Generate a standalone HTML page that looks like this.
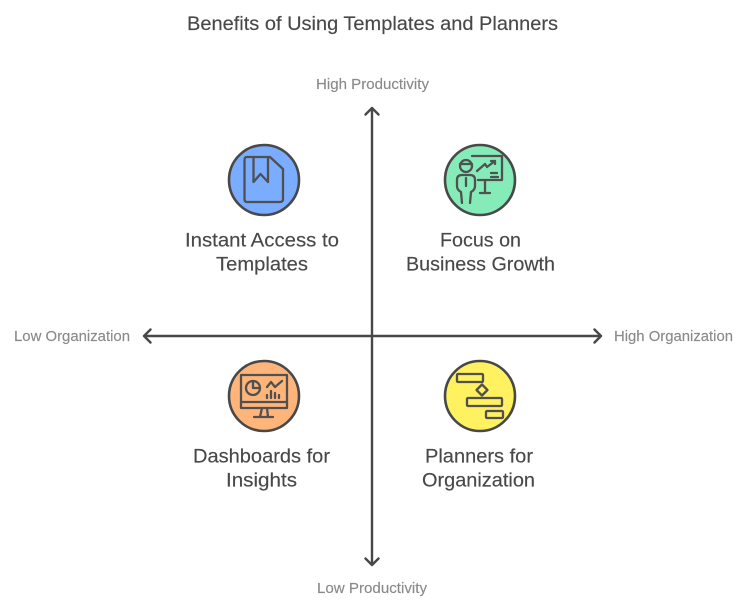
<!DOCTYPE html>
<html>
<head>
<meta charset="utf-8">
<style>
html,body{margin:0;padding:0;background:#fff;width:756px;height:612px;overflow:hidden}
svg{display:block}
text{font-family:"Liberation Sans",sans-serif}
.t{font-size:19.500px;fill:#484848;stroke:#484848;stroke-width:.15}
.a{font-size:15px;fill:#8a8a8a;stroke:#8a8a8a;stroke-width:.15}
.s{fill:none;stroke:#484848;stroke-width:2.400;stroke-linecap:round;stroke-linejoin:round}
.i{fill:none;stroke:#505050;stroke-width:2.300;stroke-linecap:round;stroke-linejoin:round}
.c{stroke:#484848;stroke-width:2.600}
</style>
</head>
<body>
<svg width="756" height="612" viewBox="0 0 756 612" xmlns="http://www.w3.org/2000/svg">
<rect width="756" height="612" fill="#fff"/>
<text class="t" x="187" y="30" textLength="371" lengthAdjust="spacingAndGlyphs">Benefits of Using Templates and Planners</text>

<text class="a" x="316" y="89" textLength="113" lengthAdjust="spacingAndGlyphs">High Productivity</text>
<text class="a" x="317" y="593" textLength="110" lengthAdjust="spacingAndGlyphs">Low Productivity</text>
<text class="a" x="14" y="341" textLength="116" lengthAdjust="spacingAndGlyphs">Low Organization</text>
<text class="a" x="614" y="341" textLength="119" lengthAdjust="spacingAndGlyphs">High Organization</text>

<path class="s" d="M372 108V565M365.500 114.500L372 108L378.500 114.500M365.500 558.500L372 565L378.500 558.500"/>
<path class="s" d="M144 336H601M150.500 329.500L144 336L150.500 342.500M594.500 329.500L601 336L594.500 342.500"/>

<circle class="c" cx="264" cy="180" r="35" fill="#7aacff"/>
<path class="i" d="M247 157H270L283 169V199Q283 202 280 202H247Q244.500 202 244.500 199V160Q244.500 157 247 157Z"/>
<path class="i" d="M253.500 157V182L260.500 174L268 182V157"/>

<circle class="c" cx="480" cy="180" r="35" fill="#85ecb9"/>
<circle class="i" cx="466" cy="166" r="6"/>
<path class="i" d="M460 164H472"/>
<path class="i" d="M472 156H502V180H478M485 180V193M480 193H490"/>
<path class="i" d="M477 171L485 164L487 167L495 161M491 161H495V164M491 173H497M491 177H498"/>
<path class="i" d="M462 203L461 192Q457 190 457 186V180Q457 175 462 175H470Q475 175 475 180V186Q475 190 471 192L470 203M466 178V186"/>

<circle class="c" cx="264" cy="396" r="35" fill="#ffb57a"/>
<rect class="i" x="241" y="375" width="46" height="33"/>
<path class="i" d="M241 402H287M262 408L260 417M267 408L268 417M254 417H273"/>
<circle class="i" cx="253" cy="388" r="7"/>
<path class="i" d="M253 381V388H260"/>
<path class="i" d="M267 387L271 382L275 387L282 381M267 398V395M271 398V391M275 398V393M279 398V395"/>

<circle class="c" cx="480" cy="396" r="35" fill="#fff15f"/>
<rect class="i" x="457" y="374" width="26" height="8" rx="1"/>
<path class="i" d="M482 384.500L487.500 390L482 395.500L476.500 390Z"/>
<rect class="i" x="467" y="398" width="35" height="8" rx="1"/>
<rect class="i" x="486" y="411" width="17" height="7" rx="1"/>

<text class="t" x="185" y="246.500" textLength="154" lengthAdjust="spacingAndGlyphs">Instant Access to</text>
<text class="t" x="216" y="270.500" textLength="92" lengthAdjust="spacingAndGlyphs">Templates</text>
<text class="t" x="440" y="246.500" textLength="81" lengthAdjust="spacingAndGlyphs">Focus on</text>
<text class="t" x="406" y="270.500" textLength="149" lengthAdjust="spacingAndGlyphs">Business Growth</text>
<text class="t" x="193" y="462.500" textLength="137" lengthAdjust="spacingAndGlyphs">Dashboards for</text>
<text class="t" x="226" y="486.500" textLength="71" lengthAdjust="spacingAndGlyphs">Insights</text>
<text class="t" x="425" y="462.500" textLength="108" lengthAdjust="spacingAndGlyphs">Planners for</text>
<text class="t" x="422" y="486.500" textLength="113" lengthAdjust="spacingAndGlyphs">Organization</text>
</svg>
</body>
</html>
